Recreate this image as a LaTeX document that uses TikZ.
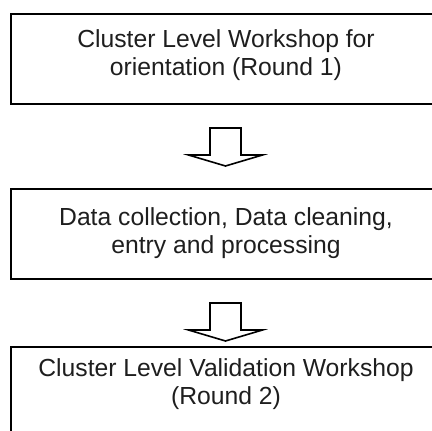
\documentclass[tikz,border=0pt]{standalone}
\usepackage{fontspec}
\setmainfont{Liberation Sans}
\usetikzlibrary{calc,positioning}
\definecolor{textgray}{RGB}{30,30,30}

\begin{document}
\begin{tikzpicture}[x=1pt,y=-1pt,
                    stage/.style={draw=black,line width=1.6pt,minimum width=430pt,minimum height=90pt,
                                  inner sep=0pt,outer sep=0pt,align=center,text=textgray,
                                  font=\fontsize{24.7pt}{27.5pt}\selectfont},
                    blockarrow/.style={draw=black,line width=1.6pt,fill=white,line join=miter}]
    \useasboundingbox (0,0) rectangle (432,431);
    \node[stage,text depth=13pt] (round1) at (226,59) {Cluster Level Workshop for\\orientation (Round 1)};
    \node[stage,text depth=7pt,below=85pt of round1] (collect) {Data collection, Data cleaning,\\entry and processing};
    \node[stage,text depth=21pt,below=68pt of collect] (round2) {Cluster Level Validation Workshop\\(Round 2)};
    \foreach \from in {round1,collect}
        \draw[blockarrow] ($(\from.south)+(-16,24)$) -- ($(\from.south)+(15,24)$)
                          -- ($(\from.south)+(15,51)$) -- ($(\from.south)+(36.5,51)$)
                          -- ($(\from.south)+(-0.5,62)$) -- ($(\from.south)+(-37.5,51)$)
                          -- ($(\from.south)+(-16,51)$) -- cycle;
\end{tikzpicture}
\end{document}
